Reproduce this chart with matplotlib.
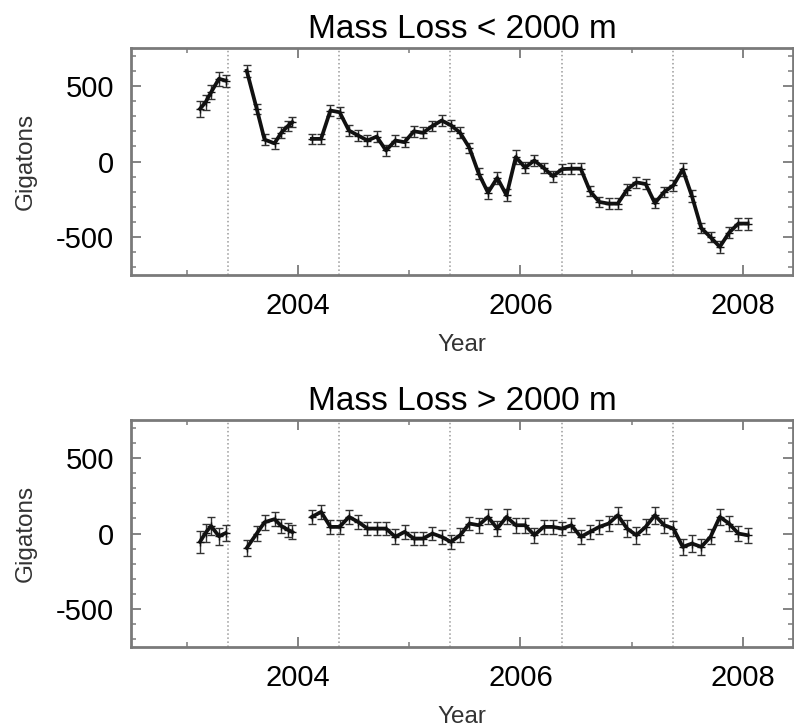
import numpy as np
import pandas as pd
import matplotlib
matplotlib.use("Agg")
import matplotlib.pyplot as plt
from matplotlib.ticker import MultipleLocator

plt.rcParams["font.family"] = ["Liberation Sans", "DejaVu Sans"]
plt.rcParams["axes.unicode_minus"] = False

# decimal years of the solutions (gaps in Jun 2003 and Jan 2004)
years_2003a = [2003.12, 2003.17, 2003.22, 2003.29, 2003.35]
years_2003b = [2003.54, 2003.63, 2003.70, 2003.79, 2003.85, 2003.91, 2003.95]
months_main = pd.period_range("2004-02", "2008-01", freq="M")

# mass change, Gigatons, below 2000 m
low_2003a = [348, 392, 458, 547, 535]
low_2003b = [600, 348, 145, 120, 190, 235, 260]
low_main = [150, 150, 337, 326, 205, 172, 139, 165, 73, 139,
            128, 200, 190, 235, 271, 240, 190, 90, -80, -205,
            -108, -223, 30, -40, 7, -42, -97, -50, -47, -47,
            -195, -267, -278, -278, -185, -138, -148, -275, -201, -157,
            -52, -230, -440, -500, -564, -470, -410, -410]
low_err_2003a = [55, 50, 45, 45, 40]
low_err_2003b = [40, 35, 35, 35, 35, 35, 35]
low_err_main = [35, 35, 35, 35, 35, 35, 35, 35, 35, 35,
                35, 35, 35, 35, 35, 35, 35, 35, 35, 40,
                40, 40, 45, 35, 35, 35, 35, 35, 35, 35,
                35, 35, 35, 35, 35, 35, 35, 35, 35, 35,
                45, 40, 35, 35, 40, 35, 40, 40]

# mass change, Gigatons, above 2000 m
high_2003a = [-55, 5, 50, -18, 3]
high_2003b = [-95, 0, 75, 95, 50, 25, 10]
high_main = [110, 143, 44, 44, 110, 77, 33, 33, 33, -22,
             11, -33, -33, 0, -22, -55, -11, 66, 55, 110,
             33, 110, 55, 55, -11, 44, 44, 33, 55, -22,
             11, 44, 66, 121, 33, -11, 44, 121, 55, 33,
             -88, -66, -88, -22, 110, 66, 0, -11]
high_err_2003a = [75, 60, 60, 55, 55]
high_err_2003b = [55, 50, 50, 45, 45, 45, 45]
high_err_main = [45, 45, 45, 45, 45, 45, 45, 45, 45, 50,
                 45, 45, 45, 45, 45, 45, 45, 45, 50, 50,
                 50, 50, 50, 50, 50, 45, 45, 45, 45, 45,
                 45, 45, 50, 55, 55, 55, 50, 55, 50, 50,
                 55, 55, 55, 50, 55, 50, 50, 50]

marker_lines = [2003.37, 2004.37, 2005.37, 2006.37, 2007.37]
titles = ["Mass Loss < 2000 m", "Mass Loss > 2000 m"]


def decimal_years(periods):
    return [p.year + (p.month - 0.5) / 12 for p in periods]


def with_gaps(*segments):
    out = []
    for i, seg in enumerate(segments):
        if i:
            out.append(np.nan)
        out.extend(seg)
    return np.array(out, dtype=float)


x = with_gaps(years_2003a, years_2003b, decimal_years(months_main))
series = [
    (with_gaps(low_2003a, low_2003b, low_main),
     with_gaps(low_err_2003a, low_err_2003b, low_err_main)),
    (with_gaps(high_2003a, high_2003b, high_main),
     with_gaps(high_err_2003a, high_err_2003b, high_err_main)),
]

fig = plt.figure(figsize=(7.94, 7.27), dpi=100)
positions = [[0.165, 0.6217, 0.8338, 0.3122], [0.165, 0.110, 0.8338, 0.3122]]
spine_col = "#7a7a7a"

for pos, title, (y, err) in zip(positions, titles, series):
    ax = fig.add_axes(pos)
    for xv in marker_lines:
        ax.axvline(xv, color="#9a9a9a", linestyle=":", linewidth=1.1, zorder=1)
    ax.errorbar(x, y, yerr=err, color="#111111", linewidth=2.7,
                ecolor="#333333", elinewidth=1.0, capsize=3, capthick=1.1,
                marker="+", markersize=6, markeredgewidth=1.0, zorder=3)
    ax.set_xlim(2002.5, 2008.45)
    ax.set_ylim(-750, 750)
    ax.set_xticks([2004, 2006, 2008])
    ax.xaxis.set_minor_locator(MultipleLocator(1))
    ax.set_yticks([-500, 0, 500])
    ax.yaxis.set_minor_locator(MultipleLocator(100))
    ax.tick_params(which="both", direction="in", top=True, right=True,
                   color=spine_col, labelsize=21)
    ax.tick_params(which="major", length=7, width=1.3)
    ax.tick_params(which="minor", length=3.5, width=1.1)
    ax.tick_params(axis="x", pad=12)
    ax.tick_params(axis="y", pad=12)
    for sp in ax.spines.values():
        sp.set_color(spine_col)
        sp.set_linewidth(2.0)
    ax.set_title(title, fontsize=24, pad=7)
    ax.set_xlabel("Year", fontsize=17.5, color="#333333", labelpad=10)
    ax.set_ylabel("Gigatons", fontsize=17.5, color="#333333", labelpad=14)

fig.savefig("out.png", dpi=100)
